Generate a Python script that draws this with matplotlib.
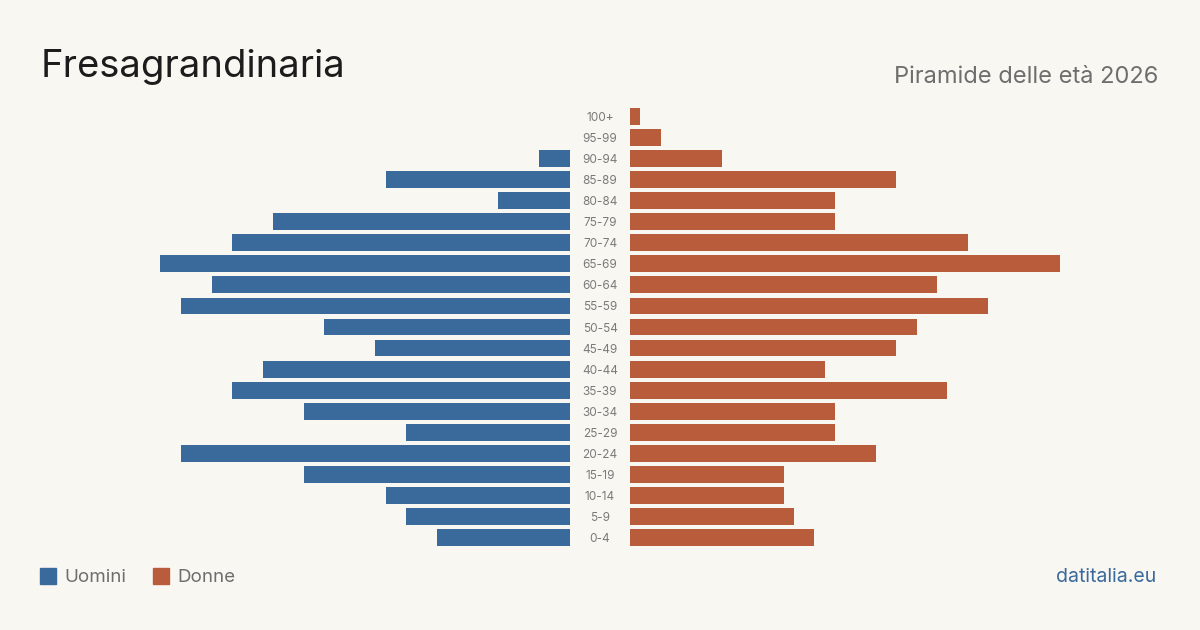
import matplotlib
matplotlib.use("Agg")
import matplotlib.pyplot as plt
from matplotlib.patches import Rectangle

plt.rcParams['font.family'] = ['Inter', 'DejaVu Sans']

eta = ["0-4", "5-9", "10-14", "15-19", "20-24", "25-29", "30-34", "35-39", "40-44", "45-49",
       "50-54", "55-59", "60-64", "65-69", "70-74", "75-79", "80-84", "85-89", "90-94", "95-99", "100+"]
uomini = [13, 16, 18, 26, 38, 16, 26, 33, 30, 19, 24, 38, 35, 40, 33, 29, 7, 18, 3, 0, 0]
donne = [18, 16, 15, 15, 24, 20, 20, 31, 19, 26, 28, 35, 30, 42, 33, 20, 20, 26, 9, 3, 1]

blu = "#3a6a9b"
rosso = "#b95c3c"
bg = "#f9f7f2"

W, H = 1200, 630
fig = plt.figure(figsize=(12, 6.3), dpi=100, facecolor=bg)

def box(x0, x1, y0, y1):
    return [x0 / W, 1 - y1 / H, (x1 - x0) / W, (y1 - y0) / H]

top, bot = 106, 548
ax_l = fig.add_axes(box(40, 570, top, bot))
ax_r = fig.add_axes(box(630, 1160, top, bot))
span = 530 / 10.24
y = range(len(eta))
ax_l.barh(y, uomini, height=0.8, color=blu)
ax_r.barh(y, donne, height=0.8, color=rosso)
ax_l.set_xlim(span, 0)
ax_r.set_xlim(0, span)
for a in (ax_l, ax_r):
    a.set_ylim(-0.5, len(eta) - 0.5)
    a.axis("off")
    a.set_facecolor("none")

for i, lab in enumerate(eta):
    yy = 1 - (bot + 1.5 - (i + 0.5) * (bot - top) / len(eta)) / H
    fig.text(600 / W, yy, lab, ha="center", va="center", fontsize=8.5, color="#7a7a7a")

fig.text(41 / W, 1 - 67 / H, "Fresagrandinaria", fontsize=27.5, color="#1c1c1c", va="center", ha="left")
fig.text(1158 / W, 1 - 77 / H, "Piramide delle età 2026", fontsize=17, color="#6e6e6e", va="center", ha="right")

fig.patches.append(Rectangle((40 / W, 1 - 584 / H), 16 / W, 16 / H, transform=fig.transFigure, color=blu))
fig.text(64 / W, 1 - 577 / H, "Uomini", fontsize=13.5, color="#6e6e6e", va="center", ha="left")
fig.patches.append(Rectangle((153 / W, 1 - 584 / H), 16 / W, 16 / H, transform=fig.transFigure, color=rosso))
fig.text(177 / W, 1 - 577 / H, "Donne", fontsize=13.5, color="#6e6e6e", va="center", ha="left")
fig.text(1156 / W, 1 - 577 / H, "datitalia.eu", fontsize=14, color=blu, va="center", ha="right")

fig.savefig("out.png", dpi=100, facecolor=bg)
